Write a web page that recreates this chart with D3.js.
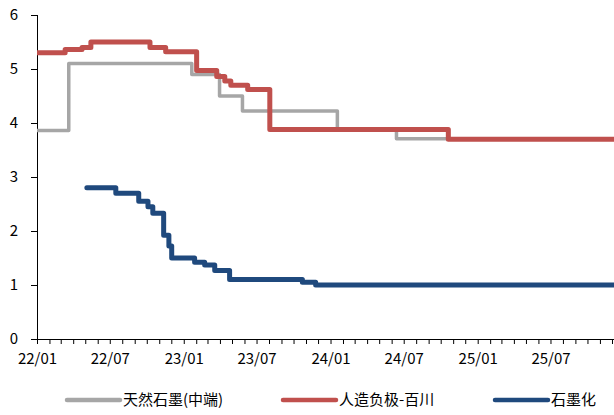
<!DOCTYPE html>
<html>
<head>
<meta charset="utf-8">
<script src="https://cdn.jsdelivr.net/npm/d3@7"></script>
<style>
  html, body { margin: 0; padding: 0; background: #fff; }
  svg text { font-family: "Microsoft YaHei", "Noto Sans CJK SC", sans-serif; fill: #000; }
</style>
</head>
<body>
<svg id="chart" width="614" height="415"></svg>
<script>
// ---- data ----
const seriesNames = ["天然石墨(中端)", "人造负极-百川", "石墨化"];
const seriesColors = ["#a6a6a6", "#c0504d", "#1f497d"];

const grayDates  = ["2022-01-01","2022-03-21","2023-01-21","2023-03-31","2023-05-27","2024-01-18","2024-06-13"];
const grayValues = [3.86, 5.1, 4.9, 4.5, 4.22, 3.88, 3.71];

const redDates  = ["2022-01-01","2022-03-12","2022-04-23","2022-05-15","2022-10-09","2022-11-17","2023-02-02","2023-03-24","2023-04-13","2023-04-28","2023-06-09","2023-08-03","2024-10-20"];
const redValues = [5.3, 5.36, 5.4, 5.5, 5.4, 5.32, 4.97, 4.86, 4.78, 4.7, 4.62, 3.88, 3.7];

const blueDates  = ["2022-05-05","2022-07-16","2022-09-11","2022-10-04","2022-10-16","2022-11-12","2022-11-25","2022-12-02","2023-01-28","2023-02-22","2023-03-19","2023-04-25","2023-10-23","2023-11-25"];
const blueValues = [2.8, 2.7, 2.55, 2.45, 2.33, 1.92, 1.72, 1.5, 1.42, 1.37, 1.27, 1.1, 1.05, 1.0];

const xStart = "2022-01-01";
const xEnd = "2025-12-06";
const yTicks = [0, 1, 2, 3, 4, 5, 6];

// ---- chart ----
const parse = d3.timeParse("%Y-%m-%d");
const svg = d3.select("#chart");

const x = d3.scaleTime().domain([parse(xStart), parse(xEnd)]).range([37, 614]);
const y = d3.scaleLinear().domain([0, 6]).range([339, 15]);

function build(dates, values) {
  const pts = dates.map((d, i) => ({ date: parse(d), value: values[i] }));
  pts.push({ date: parse(xEnd), value: values[values.length - 1] });
  return pts;
}
const series = [
  { data: build(grayDates, grayValues), width: 3.5 },
  { data: build(redDates, redValues), width: 5 },
  { data: build(blueDates, blueValues), width: 5 }
];

// axes
const yAxis = d3.axisLeft(y).tickValues(yTicks).tickFormat(d3.format("d")).tickSize(6).tickPadding(13);
const gy = svg.append("g").attr("transform", "translate(37,0)").call(yAxis);
gy.selectAll("text").style("font-size", "15px");

const xAxis = d3.axisBottom(x)
  .ticks(d3.timeMonth.every(1))
  .tickSize(5)
  .tickPadding(9)
  .tickFormat(d => (d.getMonth() % 6 === 0) ? d3.timeFormat("%y/%m")(d) : "");
const gx = svg.append("g").attr("transform", "translate(0,339)").call(xAxis);
gx.selectAll("text").style("font-size", "15px");

[gx, gy].forEach(g => {
  g.select(".domain").attr("stroke", "#000").attr("stroke-width", 1);
  g.selectAll(".tick line").attr("stroke", "#000");
});
gx.select(".domain").attr("d", "M37,0.5H614");
gy.select(".domain").attr("d", "M0.5,15V339");

// lines
const line = d3.line().x(d => x(d.date)).y(d => y(d.value)).curve(d3.curveStepAfter);
svg.append("clipPath").attr("id", "clip").append("rect")
  .attr("x", 37).attr("y", 0).attr("width", 577).attr("height", 345);
series.forEach((s, i) => {
  svg.append("path")
    .datum(s.data)
    .attr("clip-path", "url(#clip)")
    .attr("fill", "none")
    .attr("stroke", seriesColors[i])
    .attr("stroke-width", s.width)
    .attr("stroke-linejoin", "round")
    .attr("stroke-linecap", "round")
    .attr("d", line);
});

// legend
const legendX = [67, 283, 495];
const lg = svg.append("g");
seriesNames.forEach((name, i) => {
  const g = lg.append("g").attr("transform", `translate(${legendX[i]},400)`);
  g.append("line").attr("x1", 0).attr("x2", 53).attr("y1", 0).attr("y2", 0)
    .attr("stroke", seriesColors[i]).attr("stroke-width", 4.5).attr("stroke-linecap", "round");
  g.append("text").attr("x", 56).attr("y", 0).attr("dy", "0.35em")
    .style("font-size", "15px").text(name);
});
</script>
</body>
</html>
